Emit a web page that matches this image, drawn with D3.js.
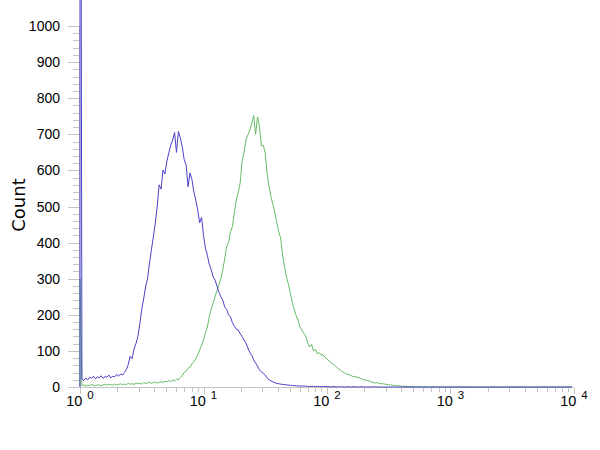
<!DOCTYPE html>
<html><head><meta charset="utf-8">
<script src="https://cdn.jsdelivr.net/npm/d3@7"></script>
<style>body{margin:0;background:#fff}</style>
</head><body><svg id="c" width="600" height="450"></svg>
<script>
// ---- data ----
const channelsPerDecade = 64;           // 256 log channels over 4 decades
const xDecades = [0, 1, 2, 3, 4];       // tick labels 10^n
const xBase = "10";
const yTicks = [0, 100, 200, 300, 400, 500, 600, 700, 800, 900, 1000];
const yLabel = "Count";
const seriesNames = ["control", "stained"];

const blueCounts = [
  3000,22,18,25,20,27,24,30,22,28,26,31,24,29,27,33,
  25,30,28,35,30,36,33,40,48,62,85,78,105,120,140,175,
  215,245,277,300,343,380,415,454,500,560,548,601,590,625,648,670,
  684,705,650,708,690,665,630,615,555,593,575,540,518,490,455,470,
  420,385,365,340,325,305,296,280,262,250,240,222,215,200,194,178,
  168,160,158,148,140,130,122,108,96,88,75,66,58,48,42,38,
  33,25,20,17,14,12,10,9,8,7,7,6,5,5,4,4,
  3,3,3,2,3,2,2,1,2,2,1,2,1,1,2,1,
  1,1,0,1,1,0,1,0,1,0,0,1,0,0,1,0,
  0,0,1,0,0,0,0,0,1,0,0,0,0,0,0,0,
  0,0,0,0,0,0,0,0,0,0,0,0,0,0,0,0,
  0,0,0,0,0,0,0,0,0,0,0,0,0,0,0,0,
  0,0,0,0,0,0,0,0,0,0,0,0,0,0,0,0,
  0,0,0,0,0,0,0,0,0,0,0,0,0,0,0,0,
  0,0,0,0,0,0,0,0,0,0,0,0,0,0,0,0,
  0,0,0,0,0,0,0,0,0,0,0,0,0,0,0,0
];
const greenCounts = [
  300,4,6,3,5,4,7,5,3,6,5,4,6,8,5,7,
  6,5,8,6,7,9,6,8,7,10,8,9,7,11,9,10,
  8,12,10,11,13,10,12,14,11,13,15,12,16,14,18,15,
  19,17,22,20,26,32,40,44,52,55,64,70,78,88,102,115,
  130,150,166,195,215,232,250,268,282,300,325,355,390,400,430,445,
  485,518,540,565,625,650,685,698,712,730,752,700,748,722,668,670,
  648,590,555,526,505,482,455,430,412,365,332,305,285,260,235,215,
  198,185,166,158,148,140,122,111,118,100,104,92,95,88,90,82,
  78,72,68,64,60,54,50,47,42,40,36,35,33,30,29,28,
  26,25,22,20,19,18,17,14,12,11,12,10,9,9,8,7,
  6,6,5,4,4,3,3,2,2,2,1,1,1,0,1,0,
  1,0,0,1,0,0,0,1,0,0,0,0,0,0,0,0,
  0,0,0,0,0,0,0,0,0,0,0,0,0,0,0,0,
  0,0,0,0,0,0,0,0,0,0,0,0,0,0,0,0,
  0,0,0,0,0,0,0,0,0,0,0,0,0,0,0,0,
  0,0,0,0,0,0,0,0,0,0,0,0,0,0,0,0
];

// ---- layout ----
const FONT = "'Liberation Sans', Arial, sans-serif";
const svg = d3.select("#c");
const x = d3.scaleLog().domain([1, 10000]).range([80, 574]);
const y = d3.scaleLinear().domain([0, 1000]).range([387, 26]);
const axisCol = "#c4c4c4";

// y axis
const gy = svg.append("g");
gy.append("line").attr("x1", 79.5).attr("x2", 79.5).attr("y1", y(0)).attr("y2", y(1000))
  .attr("stroke", axisCol);
const yMinor = d3.range(0, 1001, 20);
gy.selectAll("line.mn").data(yMinor).join("line").attr("class", "mn")
  .attr("x1", d => d % 100 === 0 ? 68 : 73).attr("x2", 79)
  .attr("y1", d => Math.round(y(d)) + 0.5).attr("y2", d => Math.round(y(d)) + 0.5)
  .attr("stroke", axisCol);
gy.selectAll("text").data(yTicks).join("text")
  .attr("x", 60).attr("y", d => y(d)).attr("dy", "0.36em")
  .attr("text-anchor", "end").attr("font-family", FONT).attr("font-size", 14)
  .text(d => d);

svg.append("text").attr("transform", "translate(25,205) rotate(-90)")
  .attr("text-anchor", "middle").attr("font-family", "'DejaVu Sans', sans-serif").attr("font-size", 18)
  .text(yLabel);

// x axis
const gx = svg.append("g");
gx.append("line").attr("x1", x(1)).attr("x2", x(10000)).attr("y1", 387.5).attr("y2", 387.5)
  .attr("stroke", axisCol);
const xMinor = [];
xDecades.slice(0, -1).forEach(p => { for (let m = 2; m <= 9; m++) xMinor.push(m * Math.pow(10, p)); });
gx.selectAll("line.mn").data(xMinor).join("line").attr("class", "mn")
  .attr("x1", d => Math.round(x(d)) + 0.5).attr("x2", d => Math.round(x(d)) + 0.5)
  .attr("y1", 388).attr("y2", 392).attr("stroke", axisCol);
gx.selectAll("line.mj").data(xDecades).join("line").attr("class", "mj")
  .attr("x1", d => Math.round(x(Math.pow(10, d))) + 0.5).attr("x2", d => Math.round(x(Math.pow(10, d))) + 0.5)
  .attr("y1", 388).attr("y2", 394).attr("stroke", axisCol);
const lbl = gx.selectAll("text").data(xDecades).join("text")
  .attr("x", d => x(Math.pow(10, d))).attr("y", 406)
  .attr("text-anchor", "middle").attr("font-family", FONT).attr("font-size", 14.5);
lbl.append("tspan").text(xBase);
lbl.append("tspan").attr("dx", 5).attr("dy", -7).attr("font-size", 11.5).text(d => d);

// series
const chanX = i => x(Math.pow(10, i / channelsPerDecade));
function drawSeries(counts, color) {
  const pts = [[chanX(0), y(0)]].concat(counts.map((c, i) => [chanX(i), y(c)]));
  svg.append("path").attr("d", d3.line()(pts)).attr("fill", "none")
    .attr("stroke", color).attr("stroke-width", 1);
}
drawSeries(greenCounts, "#66bb66");
drawSeries(blueCounts, "#4a40c8");
</script>
</body></html>
